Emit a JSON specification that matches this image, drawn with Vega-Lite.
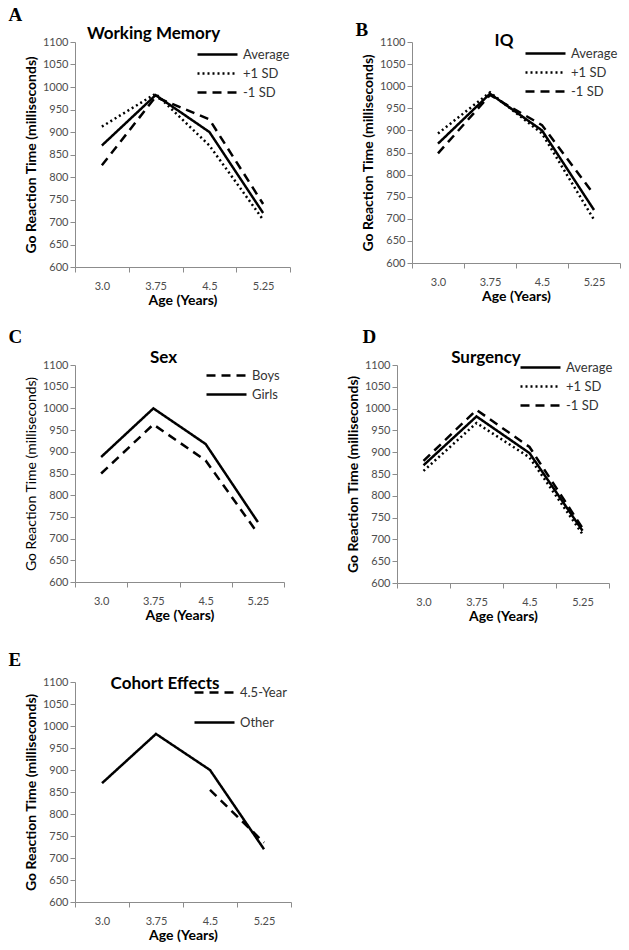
{
  "$schema": "https://vega.github.io/schema/vega-lite/v6.json",
  "padding": {"left": 8, "top": 6, "right": 5, "bottom": 5},
  "background": "white",
  "config": {
    "view": {"stroke": null},
    "font": "Lato",
    "axis": {"domainColor": "#8c8c8c", "tickColor": "#8c8c8c", "labelColor": "#4d4d4d", "labelFont": "Lato", "labelFontSize": 11, "titleFont": "Lato", "titleFontSize": 14, "titleFontWeight": "bold", "titleColor": "black", "grid": false, "tickSize": 5},
    "legend": {"labelFont": "Lato", "labelFontSize": 13, "labelColor": "#333333", "symbolType": "M-4,0H4", "symbolSize": 100, "symbolStrokeWidth": 2.5, "symbolStrokeColor": "black", "labelOffset": 19, "rowPadding": 5, "orient": "top-right", "offset": 2, "title": null}
  },
  "resolve": {"scale": {"strokeDash": "independent"}, "legend": {"strokeDash": "independent"}},
  "datasets": {
    "rt": [
      {"panel": "A", "series": "Average", "age": "3.0", "rt": 870},
      {"panel": "A", "series": "Average", "age": "3.75", "rt": 982},
      {"panel": "A", "series": "Average", "age": "4.5", "rt": 900},
      {"panel": "A", "series": "Average", "age": "5.25", "rt": 720},
      {"panel": "A", "series": "+1 SD", "age": "3.0", "rt": 912},
      {"panel": "A", "series": "+1 SD", "age": "3.75", "rt": 985},
      {"panel": "A", "series": "+1 SD", "age": "4.5", "rt": 870},
      {"panel": "A", "series": "+1 SD", "age": "5.25", "rt": 705},
      {"panel": "A", "series": "-1 SD", "age": "3.0", "rt": 826},
      {"panel": "A", "series": "-1 SD", "age": "3.75", "rt": 978},
      {"panel": "A", "series": "-1 SD", "age": "4.5", "rt": 928},
      {"panel": "A", "series": "-1 SD", "age": "5.25", "rt": 740},
      {"panel": "B", "series": "Average", "age": "3.0", "rt": 870},
      {"panel": "B", "series": "Average", "age": "3.75", "rt": 983},
      {"panel": "B", "series": "Average", "age": "4.5", "rt": 900},
      {"panel": "B", "series": "Average", "age": "5.25", "rt": 720},
      {"panel": "B", "series": "+1 SD", "age": "3.0", "rt": 893},
      {"panel": "B", "series": "+1 SD", "age": "3.75", "rt": 986},
      {"panel": "B", "series": "+1 SD", "age": "4.5", "rt": 893},
      {"panel": "B", "series": "+1 SD", "age": "5.25", "rt": 698},
      {"panel": "B", "series": "-1 SD", "age": "3.0", "rt": 848},
      {"panel": "B", "series": "-1 SD", "age": "3.75", "rt": 980},
      {"panel": "B", "series": "-1 SD", "age": "4.5", "rt": 912},
      {"panel": "B", "series": "-1 SD", "age": "5.25", "rt": 755},
      {"panel": "C", "series": "Boys", "age": "3.0", "rt": 850},
      {"panel": "C", "series": "Boys", "age": "3.75", "rt": 963},
      {"panel": "C", "series": "Boys", "age": "4.5", "rt": 880},
      {"panel": "C", "series": "Boys", "age": "5.25", "rt": 712},
      {"panel": "C", "series": "Girls", "age": "3.0", "rt": 888},
      {"panel": "C", "series": "Girls", "age": "3.75", "rt": 1000},
      {"panel": "C", "series": "Girls", "age": "4.5", "rt": 918},
      {"panel": "C", "series": "Girls", "age": "5.25", "rt": 738},
      {"panel": "D", "series": "Average", "age": "3.0", "rt": 870},
      {"panel": "D", "series": "Average", "age": "3.75", "rt": 982},
      {"panel": "D", "series": "Average", "age": "4.5", "rt": 898},
      {"panel": "D", "series": "Average", "age": "5.25", "rt": 720},
      {"panel": "D", "series": "+1 SD", "age": "3.0", "rt": 857},
      {"panel": "D", "series": "+1 SD", "age": "3.75", "rt": 967},
      {"panel": "D", "series": "+1 SD", "age": "4.5", "rt": 888},
      {"panel": "D", "series": "+1 SD", "age": "5.25", "rt": 712},
      {"panel": "D", "series": "-1 SD", "age": "3.0", "rt": 880},
      {"panel": "D", "series": "-1 SD", "age": "3.75", "rt": 997},
      {"panel": "D", "series": "-1 SD", "age": "4.5", "rt": 912},
      {"panel": "D", "series": "-1 SD", "age": "5.25", "rt": 726},
      {"panel": "E", "series": "Other", "age": "3.0", "rt": 870},
      {"panel": "E", "series": "Other", "age": "3.75", "rt": 982},
      {"panel": "E", "series": "Other", "age": "4.5", "rt": 900},
      {"panel": "E", "series": "Other", "age": "5.25", "rt": 720},
      {"panel": "E", "series": "4.5-Year", "age": "4.5", "rt": 855},
      {"panel": "E", "series": "4.5-Year", "age": "5.25", "rt": 735}
    ]
  },
  "data": {"name": "rt"},
  "columns": 1,
  "spacing": 28,
  "align": "none",
  "concat": [
    {
      "resolve": {"scale": {"strokeDash": "independent"}, "legend": {"strokeDash": "independent"}},
      "columns": 1,
      "spacing": 21,
      "align": "none",
      "concat": [
        {
          "resolve": {"scale": {"strokeDash": "independent"}, "legend": {"strokeDash": "independent"}},
          "spacing": 64,
          "hconcat": [
            {
              "title": {"text": "A", "anchor": "start", "frame": "bounds", "font": "Liberation Serif", "fontSize": 19, "fontWeight": "bold", "offset": 0, "dx": -16},
              "resolve": {"scale": {"strokeDash": "independent"}, "legend": {"strokeDash": "independent"}},
              "vconcat": [{
                "width": 215, "height": 225,
                "title": {"text": "Working Memory", "font": "Lato", "fontSize": 17, "fontWeight": "bold", "offset": -7, "dx": -29},
                "transform": [{"filter": "datum.panel === 'A'"}],
                "mark": {"type": "line", "color": "black", "strokeWidth": 2.5},
                "encoding": {
                  "x": {"field": "age", "type": "ordinal", "sort": ["3.0", "3.75", "4.5", "5.25"], "bandPosition": 0.5, "scale": {"type": "band", "paddingInner": 0, "paddingOuter": 0}, "axis": {"title": "Age (Years)", "labelAngle": 0, "tickBand": "extent", "labelPadding": 8, "titlePadding": 2}},
                  "y": {"field": "rt", "type": "quantitative", "scale": {"domain": [600, 1100], "nice": false, "zero": false}, "axis": {"title": "Go Reaction Time (milliseconds)", "tickCount": 10, "format": "d"}},
                  "strokeDash": {"field": "series", "type": "nominal", "scale": {"domain": ["Average", "+1 SD", "-1 SD"], "range": [[1, 0], [2, 3], [9, 6]]}, "legend": {"orient": "top-right", "offset": 0, "title": " ", "titleFontSize": 1, "titlePadding": 5}},
                  "order": {"field": "age", "type": "ordinal"}
                }
              }]
            },
            {
              "title": {"text": "B", "anchor": "start", "frame": "bounds", "font": "Liberation Serif", "fontSize": 19, "fontWeight": "bold", "offset": 0, "dx": -6, "dy": 8},
              "resolve": {"scale": {"strokeDash": "independent"}, "legend": {"strokeDash": "independent"}},
              "vconcat": [{
                "width": 208, "height": 221,
                "title": {"text": "IQ", "font": "Lato", "fontSize": 17, "fontWeight": "bold", "offset": -14, "dx": -12},
                "transform": [{"filter": "datum.panel === 'B'"}],
                "mark": {"type": "line", "color": "black", "strokeWidth": 2.5},
                "encoding": {
                  "x": {"field": "age", "type": "ordinal", "sort": ["3.0", "3.75", "4.5", "5.25"], "bandPosition": 0.5, "scale": {"type": "band", "paddingInner": 0, "paddingOuter": 0}, "axis": {"title": "Age (Years)", "labelAngle": 0, "tickBand": "extent", "labelPadding": 8, "titlePadding": 2}},
                  "y": {"field": "rt", "type": "quantitative", "scale": {"domain": [600, 1100], "nice": false, "zero": false}, "axis": {"title": "Go Reaction Time (milliseconds)", "tickCount": 10, "format": "d"}},
                  "strokeDash": {"field": "series", "type": "nominal", "scale": {"domain": ["Average", "+1 SD", "-1 SD"], "range": [[1, 0], [2, 3], [9, 6]]}, "legend": {"orient": "top-right", "offset": 2, "title": " ", "titleFontSize": 1, "titlePadding": 2}},
                  "order": {"field": "age", "type": "ordinal"}
                }
              }]
            }
          ]
        },
        {
          "resolve": {"scale": {"strokeDash": "independent"}, "legend": {"strokeDash": "independent"}},
          "spacing": 61,
          "hconcat": [
            {
              "title": {"text": "C", "anchor": "start", "frame": "bounds", "font": "Liberation Serif", "fontSize": 19, "fontWeight": "bold", "offset": 2, "dx": -16},
              "resolve": {"scale": {"strokeDash": "independent"}, "legend": {"strokeDash": "independent"}},
              "vconcat": [{
                "width": 209, "height": 217,
                "title": {"text": "Sex", "font": "Lato", "fontSize": 17, "fontWeight": "bold", "offset": -8, "dx": -16},
                "transform": [{"filter": "datum.panel === 'C'"}],
                "mark": {"type": "line", "color": "black", "strokeWidth": 2.5},
                "encoding": {
                  "x": {"field": "age", "type": "ordinal", "sort": ["3.0", "3.75", "4.5", "5.25"], "bandPosition": 0.5, "scale": {"type": "band", "paddingInner": 0, "paddingOuter": 0}, "axis": {"title": "Age (Years)", "labelAngle": 0, "tickBand": "extent", "labelPadding": 8, "titlePadding": 2}},
                  "y": {"field": "rt", "type": "quantitative", "scale": {"domain": [600, 1100], "nice": false, "zero": false}, "axis": {"title": "Go Reaction Time (milliseconds)", "titleFontWeight": "normal", "tickCount": 10, "format": "d"}},
                  "strokeDash": {"field": "series", "type": "nominal", "scale": {"domain": ["Boys", "Girls"], "range": [[9, 6], [1, 0]]}, "legend": {"orient": "top-right", "offset": 4}},
                  "order": {"field": "age", "type": "ordinal"}
                }
              }]
            },
            {
              "title": {"text": "D", "anchor": "start", "frame": "bounds", "font": "Liberation Serif", "fontSize": 19, "fontWeight": "bold", "offset": 2, "dx": 16},
              "resolve": {"scale": {"strokeDash": "independent"}, "legend": {"strokeDash": "independent"}},
              "vconcat": [{
                "width": 212, "height": 218,
                "title": {"text": "Surgency", "font": "Lato", "fontSize": 17, "fontWeight": "bold", "offset": -8, "dx": -17},
                "transform": [{"filter": "datum.panel === 'D'"}],
                "mark": {"type": "line", "color": "black", "strokeWidth": 2.5},
                "encoding": {
                  "x": {"field": "age", "type": "ordinal", "sort": ["3.0", "3.75", "4.5", "5.25"], "bandPosition": 0.5, "scale": {"type": "band", "paddingInner": 0, "paddingOuter": 0}, "axis": {"title": "Age (Years)", "labelAngle": 0, "tickBand": "extent", "labelPadding": 8, "titlePadding": 2}},
                  "y": {"field": "rt", "type": "quantitative", "scale": {"domain": [600, 1100], "nice": false, "zero": false}, "axis": {"title": "Go Reaction Time (milliseconds)", "tickCount": 10, "format": "d"}},
                  "strokeDash": {"field": "series", "type": "nominal", "scale": {"domain": ["Average", "+1 SD", "-1 SD"], "range": [[1, 0], [2, 3], [9, 6]]}, "legend": {"orient": "top-right", "offset": -4}},
                  "order": {"field": "age", "type": "ordinal"}
                }
              }]
            }
          ]
        }
      ]
    },
    {
      "title": {"text": "E", "anchor": "start", "frame": "bounds", "font": "Liberation Serif", "fontSize": 19, "fontWeight": "bold", "offset": 5, "dx": -16},
      "resolve": {"scale": {"strokeDash": "independent"}, "legend": {"strokeDash": "independent"}},
      "vconcat": [{
        "width": 216, "height": 220,
        "title": {"text": "Cohort Effects", "font": "Lato", "fontSize": 17, "fontWeight": "bold", "offset": -17, "dx": -18},
        "transform": [{"filter": "datum.panel === 'E'"}],
        "mark": {"type": "line", "color": "black", "strokeWidth": 2.5},
        "encoding": {
          "x": {"field": "age", "type": "ordinal", "sort": ["3.0", "3.75", "4.5", "5.25"], "bandPosition": 0.5, "scale": {"type": "band", "paddingInner": 0, "paddingOuter": 0, "domain": ["3.0", "3.75", "4.5", "5.25"]}, "axis": {"title": "Age (Years)", "labelAngle": 0, "tickBand": "extent", "labelPadding": 8, "titlePadding": 2}},
          "y": {"field": "rt", "type": "quantitative", "scale": {"domain": [600, 1100], "nice": false, "zero": false}, "axis": {"title": "Go Reaction Time (milliseconds)", "tickCount": 10, "format": "d"}},
          "strokeDash": {"field": "series", "type": "nominal", "scale": {"domain": ["4.5-Year", "Other"], "range": [[9, 6], [1, 0]]}, "legend": {"orient": "top-right", "offset": 4, "rowPadding": 16}},
          "order": {"field": "age", "type": "ordinal"}
        }
      }]
    }
  ]
}
